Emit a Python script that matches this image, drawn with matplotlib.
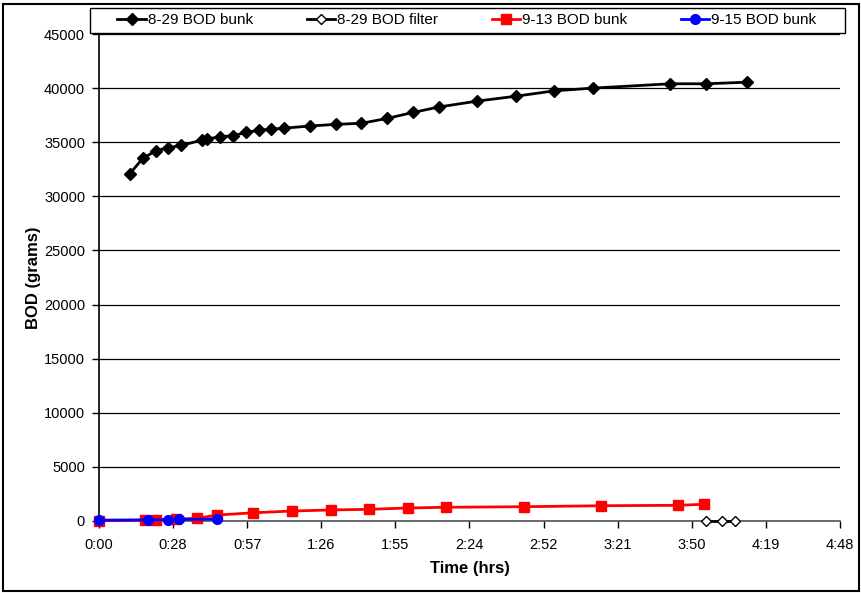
import matplotlib
matplotlib.use("Agg")
import matplotlib.pyplot as plt
from matplotlib.patches import Rectangle

plt.rcParams['font.family'] = ['Liberation Sans', 'DejaVu Sans']

# Time in minutes
bunk_829_t = [12, 17, 22, 27, 32, 40, 42, 47, 52, 57, 62, 67, 72, 82, 92, 102,
              112, 122, 132, 147, 162, 177, 192, 222, 236, 252]
bunk_829_v = [32100, 33500, 34200, 34500, 34700, 35200, 35300, 35500, 35600,
              35900, 36100, 36200, 36300, 36500, 36650, 36750, 37200, 37750,
              38250, 38800, 39250, 39750, 40000, 40400, 40400, 40550]

filter_829_t = [236, 242, 247]
filter_829_v = [0, 0, 0]

bunk_913_t = [0, 18, 22, 30, 38, 46, 60, 75, 90, 105, 120, 135, 165, 195, 225, 235]
bunk_913_v = [30, 50, 90, 180, 250, 550, 760, 920, 1020, 1080, 1200, 1270,
              1320, 1410, 1450, 1540]

bunk_915_t = [0, 19, 27, 31, 46]
bunk_915_v = [80, 110, 130, 140, 180]

x_ticks = [0, 28.8, 57.6, 86.4, 115.2, 144, 172.8, 201.6, 230.4, 259.2, 288]
x_tick_labels = ['0:00', '0:28', '0:57', '1:26', '1:55', '2:24', '2:52',
                 '3:21', '3:50', '4:19', '4:48']
y_ticks = [0, 5000, 10000, 15000, 20000, 25000, 30000, 35000, 40000, 45000]

fig = plt.figure(figsize=(8.62, 5.93), dpi=100)
fig.patches.append(Rectangle((0.003, 0.004), 0.994, 0.99, transform=fig.transFigure,
                             fill=False, edgecolor='black', linewidth=1.5))
ax = fig.add_axes([99/862, 1-521/593, 741/862, 487/593])

ax.plot(bunk_829_t, bunk_829_v, color='black', marker='D', markersize=6.5,
        linewidth=2, label='8-29 BOD bunk', zorder=4)
ax.plot(filter_829_t, filter_829_v, color='black', marker='D', markersize=5,
        markerfacecolor='white', linewidth=2, label='8-29 BOD filter', zorder=4,
        clip_on=False)
ax.plot(bunk_913_t, bunk_913_v, color='#ff0000', marker='s', markersize=7,
        linewidth=2, label='9-13 BOD bunk', zorder=3, clip_on=False)
ax.plot(bunk_915_t, bunk_915_v, color='#0000ff', marker='o', markersize=7,
        linewidth=2, label='9-15 BOD bunk', zorder=5, clip_on=False)

ax.set_xlim(0, 288)
ax.set_ylim(0, 45000)
ax.set_xticks(x_ticks)
ax.set_xticklabels(x_tick_labels)
ax.set_yticks(y_ticks)
ax.set_yticklabels([str(v) for v in y_ticks])
ax.tick_params(axis='both', labelsize=10.5, length=5, width=1, direction='out', color='black')
ax.tick_params(axis='x', pad=7)
ax.tick_params(axis='y', pad=5)

ax.grid(axis='y', color='black', linewidth=0.9)
ax.set_axisbelow(True)
for s in ['top', 'right']:
    ax.spines[s].set_visible(False)
ax.spines['left'].set_color('black')
ax.spines['bottom'].set_color('#555555')
ax.spines['left'].set_linewidth(1.2)
ax.spines['bottom'].set_linewidth(1.2)

ax.set_xlabel('Time (hrs)', fontsize=12, fontweight='bold', labelpad=7)
ax.set_ylabel('BOD (grams)', fontsize=12, fontweight='bold', labelpad=2)

# legend box
fig.patches.append(Rectangle((90/862, 1-33/593), 755/862, 25/593, transform=fig.transFigure,
                             facecolor='white', edgecolor='black', linewidth=1.0, zorder=5))
leg = fig.legend(loc='center', bbox_to_anchor=(467/862, 1-20.5/593),
                 ncol=4, fontsize=11, frameon=False, handlelength=1.85,
                 handletextpad=0.15, columnspacing=3.5, borderaxespad=0, borderpad=0)
leg.set_zorder(6)

fig.savefig('out.png', dpi=100)
